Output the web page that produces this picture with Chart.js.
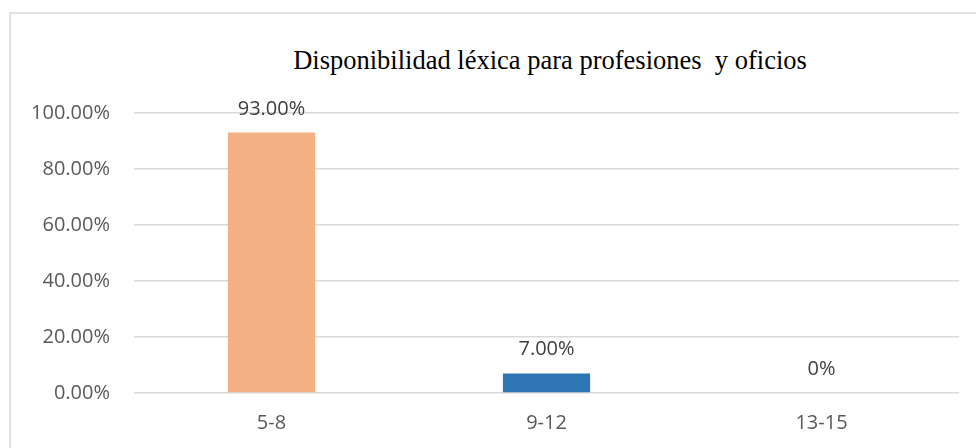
<!DOCTYPE html>
<html>
<head>
<meta charset="utf-8">
<script src="https://cdn.jsdelivr.net/npm/chart.js@4"></script>
<style>
  html, body { margin: 0; padding: 0; background: #fff; }
  #wrap { position: relative; width: 976px; height: 448px; overflow: hidden; }
  #frame { position: absolute; left: 9px; top: 12px; width: 1000px; height: 500px; border: 2px solid #e1e1e1; }
  #title {
    position: absolute; left: 550px; top: 47px; transform: translateX(-50%);
    font-family: "Liberation Serif", serif; font-size: 26.5px; line-height: 26.5px;
    color: #000; white-space: pre;
  }
  canvas { position: absolute; left: 0; top: 0; }
</style>
</head>
<body>
<div id="wrap">
  <div id="frame"></div>
  <div id="title">Disponibilidad léxica para profesiones  y oficios</div>
  <canvas id="chart" width="976" height="448"></canvas>
</div>
<script>
// Rangos de respuestas y su porcentaje
const categories = ['5-8', '9-12', '13-15'];
const values = [0.93, 0.07, 0];
const valueLabels = ['93.00%', '7.00%', '0%'];
const barColors = ['#F4B183', '#2E75B6', '#A5A5A5'];

// etiquetas de valor sobre cada barra
const valueLabelPlugin = {
    id: 'valueLabels',
    afterDatasetsDraw(chart) {
        const ctx = chart.ctx;
        const meta = chart.getDatasetMeta(0);
        ctx.save();
        ctx.font = '20px "Open Sans"';
        ctx.fillStyle = '#404040';
        ctx.textAlign = 'center';
        ctx.textBaseline = 'alphabetic';
        meta.data.forEach((bar, i) => {
            ctx.fillText(valueLabels[i], bar.x, bar.y - 18);
        });
        ctx.restore();
    }
};

const ctx = document.getElementById('chart').getContext('2d');
new Chart(ctx, {
    type: 'bar',
    data: {
        labels: categories,
        datasets: [{
            data: values,
            backgroundColor: barColors,
            borderWidth: 0,
            categoryPercentage: 1,
            barPercentage: 0.317
        }]
    },
    options: {
        responsive: false,
        animation: false,
        layout: { padding: { left: 28, right: 17, top: 113, bottom: 0 } },
        plugins: {
            legend: { display: false },
            tooltip: { enabled: false }
        },
        scales: {
            x: {
                grid: { display: false, drawTicks: false },
                border: { display: false },
                ticks: {
                    color: '#595959',
                    font: { family: 'Open Sans', size: 20 },
                    padding: 18
                },
                afterFit: scale => { scale.height = 55; }
            },
            y: {
                min: 0,
                max: 1,
                ticks: {
                    stepSize: 0.2,
                    color: '#595959',
                    font: { family: 'Open Sans', size: 20 },
                    padding: 24,
                    callback: v => (v * 100).toFixed(2) + '%'
                },
                grid: { color: '#d9d9d9', lineWidth: 1.5, drawTicks: false },
                border: { display: false },
                afterFit: scale => { scale.width = 106; }
            }
        }
    },
    plugins: [valueLabelPlugin]
});
</script>
</body>
</html>
